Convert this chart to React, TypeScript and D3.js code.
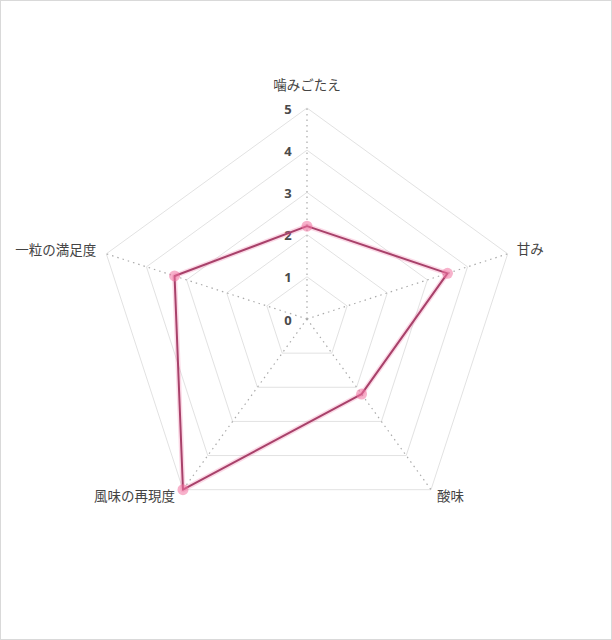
import { useEffect, useRef } from "react";
import * as d3 from "d3";

const axes = ["噛みごたえ", "甘み", "酸味", "風味の再現度", "一粒の満足度"];
const scores = [2.2, 3.5, 2.2, 5, 3.3];
const ticks = [0, 1, 2, 3, 4, 5];

const W = 612;
const H = 640;
const cx = 307;
const cy = 319;
const R = 211;

export default function App() {
  const svgRef = useRef<SVGSVGElement>(null);

  useEffect(() => {
    if (!svgRef.current) return;
    const svg = d3.select(svgRef.current);
    svg.selectAll("*").remove();

    const r = d3.scaleLinear().domain([0, 5]).range([0, R]);
    const angle = d3
      .scaleLinear()
      .domain([0, axes.length])
      .range([0, Math.PI * 2]);
    const pt = (i: number, v: number): [number, number] => [
      cx + r(v) * Math.sin(angle(i)),
      cy - r(v) * Math.cos(angle(i)),
    ];

    // frame
    svg.append("rect")
      .attr("x", 0.5).attr("y", 0.5)
      .attr("width", W - 1).attr("height", H - 1)
      .attr("fill", "#fff")
      .attr("stroke", "#d9d9d9");

    const g = svg.append("g");

    // rings
    const ring = d3.line<[number, number]>().curve(d3.curveLinearClosed);
    ticks.slice(1).forEach((t) => {
      g.append("path")
        .attr("d", ring(axes.map((_, i) => pt(i, t))))
        .attr("fill", "none")
        .attr("stroke", "#e2e2e2")
        .attr("stroke-width", 1);
    });

    // spokes
    axes.forEach((_, i) => {
      const [x, y] = pt(i, 5);
      g.append("line")
        .attr("x1", cx).attr("y1", cy)
        .attr("x2", x).attr("y2", y)
        .attr("stroke", "#aaa")
        .attr("stroke-width", 1.2)
        .attr("stroke-dasharray", "1.5 4");
    });

    // tick labels
    ticks.forEach((t) => {
      g.append("text")
        .attr("x", cx - 19)
        .attr("y", cy - r(t) + 2)
        .attr("text-anchor", "middle")
        .attr("dominant-baseline", "middle")
        .attr("font-family", "'Noto Sans', 'Noto Sans CJK JP', sans-serif")
        .attr("font-size", 13)
        .attr("font-weight", 700)
        .attr("fill", "#4a4a4a")
        .text(t);
    });

    // axis labels
    axes.forEach((name, i) => {
      const [x, y] = pt(i, 5);
      const s = Math.sin(angle(i));
      const c = Math.cos(angle(i));
      let anchor = "middle";
      let lx = x;
      let ly = y;
      if (Math.abs(s) < 0.01) {
        ly = y - 22;
      } else if (s > 0) {
        anchor = "start";
        lx = c > 0 ? x + 9 : x + 6;
        ly = c > 0 ? y - 3 : y + 8;
      } else {
        anchor = "end";
        lx = c > 0 ? x - 10 : x - 8;
        ly = c > 0 ? y - 2 : y + 8;
      }
      g.append("text")
        .attr("x", lx)
        .attr("y", ly)
        .attr("text-anchor", anchor)
        .attr("dominant-baseline", "middle")
        .attr("font-family", "'Noto Sans CJK JP', sans-serif")
        .attr("font-size", 13.5)
        .attr("fill", "#444")
        .text(name);
    });

    // data
    const pts = scores.map((v, i) => pt(i, v));
    g.append("path")
      .attr("d", ring(pts))
      .attr("fill", "none")
      .attr("stroke", "rgba(240,120,165,0.28)")
      .attr("stroke-width", 5)
      .attr("stroke-linejoin", "round");
    g.append("path")
      .attr("d", ring(pts))
      .attr("fill", "none")
      .attr("stroke", "#a8416a")
      .attr("stroke-width", 2)
      .attr("stroke-linejoin", "round");

    g.selectAll("circle.pt")
      .data(pts)
      .join("circle")
      .attr("class", "pt")
      .attr("cx", (d) => d[0])
      .attr("cy", (d) => d[1])
      .attr("r", 5.5)
      .attr("fill", "rgba(240,115,160,0.55)");
  }, []);

  return (
    <>
      <style>{`body{margin:0}`}</style>
      <svg ref={svgRef} width={W} height={H} style={{ display: "block" }} />
    </>
  );
}
